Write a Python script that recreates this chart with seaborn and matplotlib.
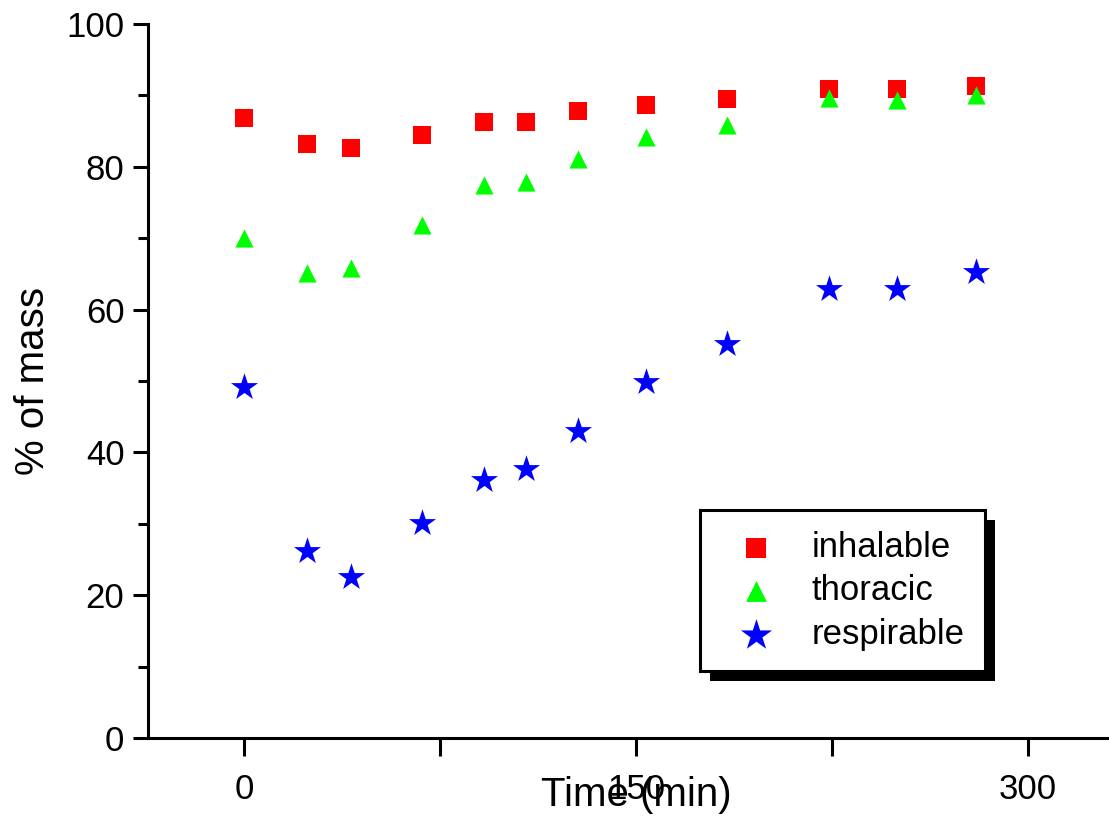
import pandas as pd
import seaborn as sns
import matplotlib
matplotlib.use("Agg")
import matplotlib.pyplot as plt
from matplotlib.patches import Rectangle
from matplotlib.ticker import MultipleLocator, FixedLocator

# valores
tempo = [0, 24, 41, 68, 92, 108, 128, 154, 185, 224, 250, 280]
inhalable = [86.8, 83.2, 82.6, 84.5, 86.3, 86.3, 87.8, 88.7, 89.5, 90.9, 90.9, 91.3]
thoracic = [70.0, 65.1, 65.8, 71.8, 77.5, 77.9, 81.1, 84.2, 85.9, 89.6, 89.4, 90.1]
respirable = [49.2, 26.2, 22.5, 30.1, 36.1, 37.7, 43.0, 49.9, 55.2, 62.9, 62.9, 65.3]

fracoes = ["inhalable", "thoracic", "respirable"]
cores = {"inhalable": "#ff0000", "thoracic": "#00ff00", "respirable": "#0000ff"}
marcadores = {"inhalable": "s", "thoracic": "^", "respirable": "*"}
tamanhos = {"inhalable": 150, "thoracic": 170, "respirable": 420}

df = pd.DataFrame({
    "time": tempo * 3,
    "mass": inhalable + thoracic + respirable,
    "fraction": ["inhalable"] * 12 + ["thoracic"] * 12 + ["respirable"] * 12,
})

sns.set_style("ticks", {"text.color": "black", "axes.labelcolor": "black",
                        "xtick.color": "black", "ytick.color": "black",
                        "axes.edgecolor": "black"})
plt.rcParams["font.family"] = ["Liberation Sans", "DejaVu Sans"]

fig = plt.figure(figsize=(11.09, 8.19), dpi=100)
ax = fig.add_axes([0.1335, 0.0989, 0.8665, 0.8718])

for f in fracoes:
    sns.scatterplot(data=df[df["fraction"] == f], x="time", y="mass",
                    color=cores[f], marker=marcadores[f], s=tamanhos[f],
                    linewidth=0, label=f, ax=ax)

ax.set_xlim(-36.7, 331)
ax.set_ylim(0, 100)
ax.xaxis.set_major_locator(FixedLocator([0, 150, 300]))
ax.xaxis.set_minor_locator(FixedLocator([75, 225]))
ax.yaxis.set_major_locator(MultipleLocator(20))
ax.yaxis.set_minor_locator(MultipleLocator(10))

for lado in ["top", "right"]:
    ax.spines[lado].set_visible(False)
for lado in ["left", "bottom"]:
    ax.spines[lado].set_linewidth(2.2)

ax.tick_params(axis="x", which="both", length=13, width=2.2, labelsize=25, pad=12)
ax.tick_params(axis="y", which="major", length=11, width=2.2, labelsize=25, pad=6)
ax.tick_params(axis="y", which="minor", length=7, width=2.2)

ax.set_xlabel("Time (min)", fontsize=29)
ax.set_ylabel("% of mass", fontsize=29)
ax.xaxis.set_label_coords((636 - 148) / 961, -(776 - 738) / 714)
ax.yaxis.set_label_coords(-(148 - 52) / 961, 0.5)

leg = ax.legend(loc="upper left", bbox_to_anchor=((700 - 148) / 961, (738 - 510) / 714),
                fontsize=25, frameon=True, fancybox=False, edgecolor="black",
                borderpad=0.6, handletextpad=0.6, labelspacing=0.3, borderaxespad=0,
                markerscale=1.15)
leg.get_frame().set_linewidth(2.2)
leg.get_frame().set_alpha(1)

fig.canvas.draw()
bb = leg.get_window_extent()
inv = fig.transFigure.inverted()
(x0, y0), (x1, y1) = inv.transform([(bb.x0 + 10, bb.y0 - 10), (bb.x1 + 10, bb.y1 - 10)])
sombra = Rectangle((x0, y0), x1 - x0, y1 - y0, transform=fig.transFigure,
                   facecolor="black", edgecolor="none", zorder=leg.get_zorder() - 0.5)
ax.add_artist(sombra)

fig.savefig("out.png", dpi=100)
